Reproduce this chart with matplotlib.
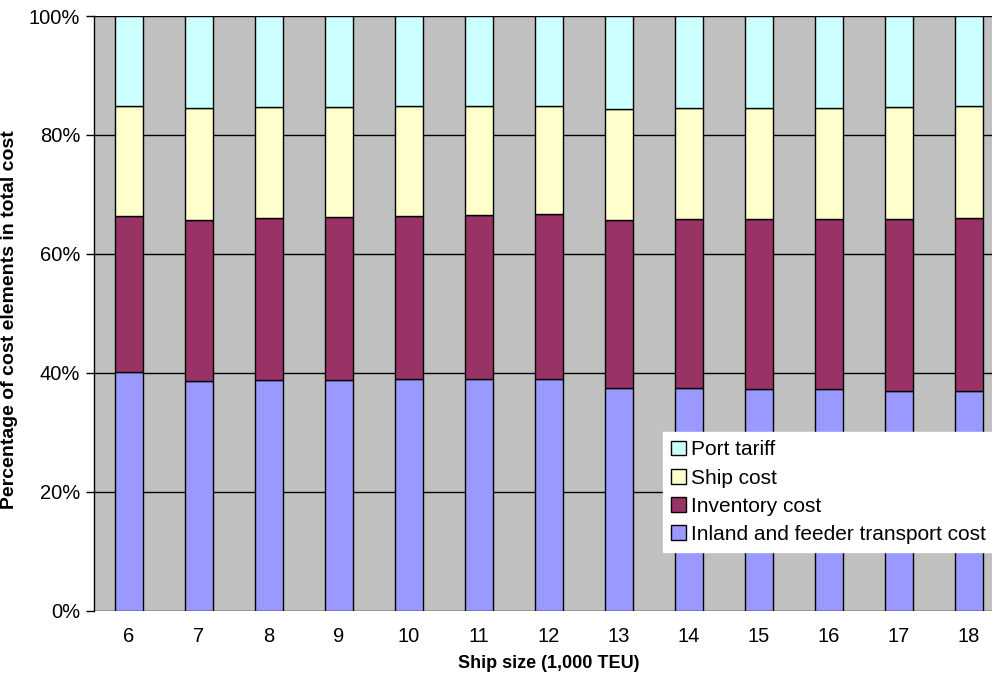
import numpy as np
import matplotlib
matplotlib.use("Agg")
import matplotlib.pyplot as plt
from matplotlib.ticker import PercentFormatter

plt.rcParams['font.family'] = ['Liberation Sans', 'DejaVu Sans']

# ship sizes in 1,000 TEU
ship_size = ['6', '7', '8', '9', '10', '11', '12', '13', '14', '15', '16', '17', '18']

# share of each cost element, percent
inland = [40.1, 38.6, 38.8, 38.8, 38.9, 39.0, 38.9, 37.5, 37.4, 37.3, 37.3, 37.0, 37.0]
inventory = [26.2, 27.1, 27.2, 27.4, 27.5, 27.6, 27.8, 28.2, 28.4, 28.6, 28.6, 28.9, 29.0]
ship = [18.6, 18.9, 18.7, 18.5, 18.4, 18.3, 18.2, 18.7, 18.7, 18.6, 18.7, 18.8, 18.9]
port = [15.1, 15.4, 15.3, 15.3, 15.2, 15.1, 15.1, 15.6, 15.5, 15.5, 15.4, 15.3, 15.1]

names = ['Inland and feeder transport cost', 'Inventory cost', 'Ship cost', 'Port tariff']
colors = ['#9999FF', '#993366', '#FFFFCC', '#CCFFFF']

fig = plt.figure(figsize=(9.92, 6.77), dpi=100)
ax = fig.add_axes([94 / 992, 66.5 / 677, 910 / 992, 594.5 / 677])
ax.set_facecolor('#C0C0C0')

x = np.arange(len(ship_size))
bottom = np.zeros(len(ship_size))
handles = []
for vals, name, col in zip([inland, inventory, ship, port], names, colors):
    b = ax.bar(x, vals, 0.4, bottom=bottom, color=col, edgecolor='black',
               linewidth=1.0, label=name, zorder=3)
    handles.append(b)
    bottom += np.array(vals)

ax.set_xlim(-0.5, len(ship_size) - 0.5)
ax.set_ylim(0, 100)
ax.set_yticks(np.arange(0, 101, 20))
ax.yaxis.set_major_formatter(PercentFormatter(decimals=0))
ax.set_xticks(x)
ax.set_xticklabels(ship_size)
ax.grid(axis='y', color='black', linewidth=1.0, zorder=1)
ax.tick_params(axis='y', length=6, width=1, direction='out', labelsize=14.5, pad=4)
ax.tick_params(axis='x', length=0, labelsize=14.5, pad=12)

for s in ['top', 'right', 'bottom']:
    ax.spines[s].set_visible(False)
ax.spines['left'].set_color('black')
ax.spines['left'].set_linewidth(1.0)

ax.set_xlabel('Ship size (1,000 TEU)', fontsize=13, fontweight='bold', labelpad=6)
ax.set_ylabel('Percentage of cost elements in total cost', fontsize=14,
              fontweight='bold', labelpad=10)
ax.yaxis.set_label_coords(-0.083, 0.49)

leg = fig.legend(handles[::-1], names[::-1], loc='upper left',
                 bbox_to_anchor=(663 / 992, (677 - 432) / 677),
                 fontsize=15, frameon=True, fancybox=False,
                 handlelength=0.72, handleheight=0.72, handletextpad=0.22,
                 labelspacing=0.44, borderpad=0.4, borderaxespad=0)
leg.get_frame().set_facecolor('white')
leg.get_frame().set_edgecolor('white')
leg.get_frame().set_alpha(1)

fig.savefig('out.png', dpi=100)
